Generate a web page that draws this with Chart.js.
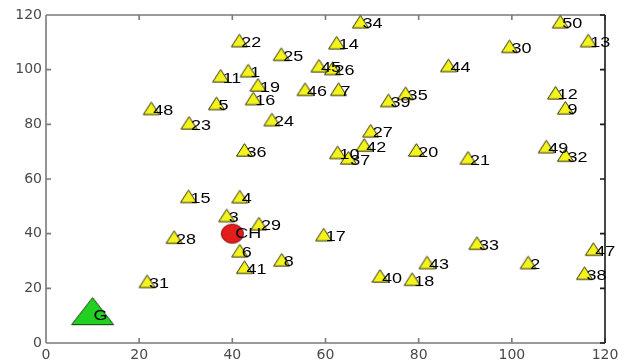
<!DOCTYPE html>
<html>
<head>
<meta charset="utf-8">
<script src="https://cdn.jsdelivr.net/npm/chart.js@4/dist/chart.umd.min.js"></script>
<style>
  html, body { margin: 0; padding: 0; background: #ffffff; }
  canvas { display: block; }
</style>
</head>
<body>
<canvas id="chart" width="626" height="360"></canvas>
<script>
// Numbered nodes
const pointIds = ['1','2','3','4','5','6','7','8','9','10',
                  '11','12','13','14','15','16','17','18','19','20',
                  '21','22','23','24','25','26','27','28','29','30',
                  '31','32','33','34','35','36','37','38','39','40',
                  '41','42','43','44','45','46','47','48','49','50'];
const xValues = [43.4, 103.5, 38.8, 41.6, 36.6, 41.6, 62.8, 50.6, 111.5, 62.6,
                 37.5, 109.4, 116.4, 62.4, 30.6, 44.5, 59.6, 78.6, 45.5, 79.5,
                 90.6, 41.5, 30.7, 48.5, 50.5, 61.5, 69.7, 27.5, 45.7, 99.5,
                 21.7, 111.5, 92.5, 67.5, 77.2, 42.6, 64.9, 115.6, 73.5, 71.7,
                 42.6, 68.3, 81.8, 86.4, 58.6, 55.6, 117.5, 22.6, 107.4, 110.4];
const yValues = [98.9, 28.7, 45.9, 52.8, 86.9, 33.0, 92.1, 29.7, 85.3, 69.0,
                 97.0, 90.8, 109.9, 109.1, 52.9, 88.7, 38.9, 22.6, 93.7, 69.9,
                 67.0, 109.9, 79.8, 81.0, 104.9, 99.7, 76.9, 38.0, 42.9, 107.8,
                 21.8, 68.0, 35.8, 116.8, 90.6, 69.9, 67.0, 24.8, 88.0, 23.8,
                 27.0, 71.7, 28.7, 100.8, 100.7, 92.1, 33.6, 85.1, 71.1, 116.8];

// Cluster head and goal
const headName = ['CH'];
const headX = [40];
const headY = [40];
const goalName = ['G'];
const goalX = [10];
const goalY = [10];

const tickValues = [0, 20, 40, 60, 80, 100, 120];

// Triangle sprite whose centroid sits at the sprite centre
function triangleMarker(w, h, fill, stroke) {
  const pad = 1.5;
  const c = document.createElement('canvas');
  c.width = Math.ceil(w + 2 * pad);
  c.height = Math.round(2 * (pad + 2 * h / 3));
  const g = c.getContext('2d');
  const cx = c.width / 2;
  const top = c.height / 2 - 2 * h / 3;
  g.beginPath();
  g.moveTo(cx, top);
  g.lineTo(cx + w / 2, top + h);
  g.lineTo(cx - w / 2, top + h);
  g.closePath();
  g.fillStyle = fill;
  g.fill();
  g.lineWidth = 1;
  g.strokeStyle = stroke;
  g.stroke();
  return c;
}

function ellipseMarker(w, h, fill, stroke) {
  const c = document.createElement('canvas');
  c.width = w + 3;
  c.height = h + 3;
  const g = c.getContext('2d');
  g.beginPath();
  g.ellipse(c.width / 2, c.height / 2, w / 2, h / 2, 0, 0, Math.PI * 2);
  g.fillStyle = fill;
  g.fill();
  g.lineWidth = 1;
  g.strokeStyle = stroke;
  g.stroke();
  return c;
}

const nodeMarker = triangleMarker(16, 12.5, '#f4f41c', '#2e2e0c');
const goalMarker = triangleMarker(42, 27, '#22d022', '#124012');
const headMarker = ellipseMarker(22, 19, '#e41c1c', '#7a0c0c');

const toPoints = (xs, ys) => xs.map((x, i) => ({ x: x, y: ys[i] }));

// Box frame with inward tick marks on all four sides
const framePlugin = {
  id: 'frame',
  beforeDatasetsDraw(chart) {
    const { ctx, chartArea: a, scales } = chart;
    const tl = 5;
    ctx.save();
    ctx.lineCap = 'butt';
    ctx.strokeStyle = '#7a7a7a';
    ctx.lineWidth = 1.6;
    ctx.beginPath();
    ctx.moveTo(a.left, a.top); ctx.lineTo(a.right, a.top);
    ctx.moveTo(a.left, a.bottom); ctx.lineTo(a.right, a.bottom);
    ctx.moveTo(a.left, a.top); ctx.lineTo(a.left, a.bottom);
    tickValues.forEach(v => {
      const px = scales.x.getPixelForValue(v);
      ctx.moveTo(px, a.bottom); ctx.lineTo(px, a.bottom - tl);
      ctx.moveTo(px, a.top); ctx.lineTo(px, a.top + tl);
      const py = scales.y.getPixelForValue(v);
      ctx.moveTo(a.left, py); ctx.lineTo(a.left + tl, py);
    });
    ctx.stroke();
    ctx.strokeStyle = '#1a1a1a';
    ctx.beginPath();
    ctx.moveTo(a.right, a.top); ctx.lineTo(a.right, a.bottom);
    tickValues.forEach(v => {
      const py = scales.y.getPixelForValue(v);
      ctx.moveTo(a.right, py); ctx.lineTo(a.right - tl, py);
    });
    ctx.stroke();
    ctx.restore();
  }
};

// Text label beside every marker, starting just right of the point
const labelPlugin = {
  id: 'markerLabels',
  afterDatasetsDraw(chart) {
    const ctx = chart.ctx;
    chart.data.datasets.forEach((ds, di) => {
      const meta = chart.getDatasetMeta(di);
      meta.data.forEach((el, i) => {
        ctx.save();
        ctx.translate(el.x + ds.labelShift, el.y + 0.5);
        ctx.scale(1.2, 1);
        ctx.font = '15px "Liberation Sans", Arial, sans-serif';
        ctx.fillStyle = '#000000';
        ctx.textAlign = 'left';
        ctx.textBaseline = 'middle';
        ctx.fillText(ds.names[i], 0, 0);
        ctx.restore();
      });
    });
  }
};

const tickFont = { family: '"DejaVu Sans", sans-serif', size: 14 };

new Chart(document.getElementById('chart').getContext('2d'), {
  type: 'scatter',
  data: {
    datasets: [
      {
        label: 'Nodes',
        names: pointIds,
        labelShift: 2,
        data: toPoints(xValues, yValues),
        pointStyle: nodeMarker,
        pointRadius: 8,
        clip: false
      },
      {
        label: 'Cluster head',
        names: headName,
        labelShift: 3,
        data: toPoints(headX, headY),
        pointStyle: headMarker,
        pointRadius: 10,
        clip: false
      },
      {
        label: 'Goal',
        names: goalName,
        labelShift: 1,
        data: toPoints(goalX, goalY),
        pointStyle: goalMarker,
        pointRadius: 14,
        clip: false
      }
    ]
  },
  options: {
    responsive: false,
    devicePixelRatio: 1,
    animation: false,
    events: [],
    layout: { padding: { top: 15, right: 21, left: 0, bottom: 0 } },
    plugins: {
      legend: { display: false },
      tooltip: { enabled: false }
    },
    scales: {
      x: {
        type: 'linear',
        min: 0,
        max: 120,
        afterBuildTicks: s => { s.ticks = tickValues.map(v => ({ value: v })); },
        afterFit: s => { s.height = 17; },
        grid: { display: false, drawTicks: false },
        border: { display: false },
        ticks: { font: tickFont, color: '#4a4a4a', padding: 4, maxRotation: 0 }
      },
      y: {
        type: 'linear',
        min: 0,
        max: 120,
        afterBuildTicks: s => { s.ticks = tickValues.map(v => ({ value: v })); },
        afterFit: s => { s.width = 46; },
        grid: { display: false, drawTicks: false },
        border: { display: false },
        ticks: { font: tickFont, color: '#4a4a4a', padding: 4 }
      }
    }
  },
  plugins: [framePlugin, labelPlugin]
});
</script>
</body>
</html>
